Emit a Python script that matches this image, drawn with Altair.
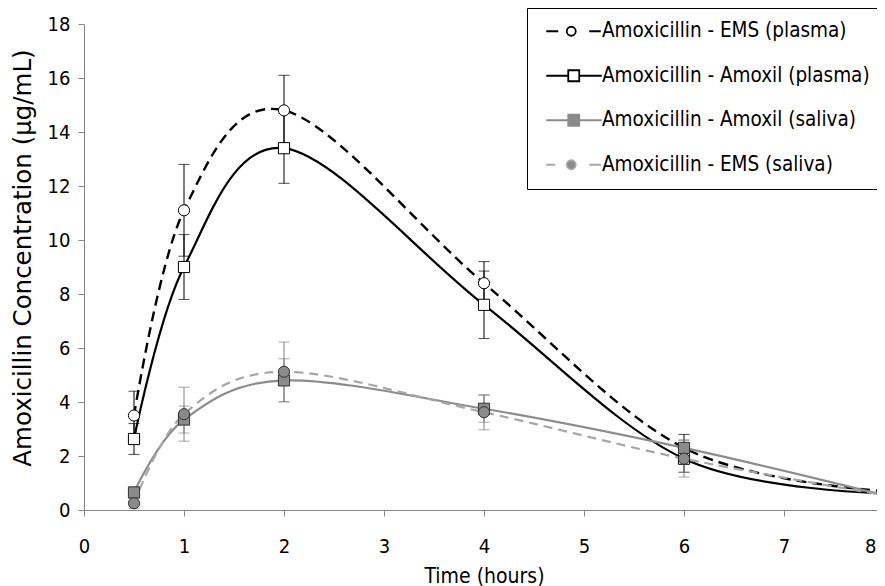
import altair as alt
import pandas as pd

times = [0.5, 1, 2, 4, 6, 8]
series_names = [
    "Amoxicillin - EMS (plasma)",
    "Amoxicillin - Amoxil (plasma)",
    "Amoxicillin - Amoxil (saliva)",
    "Amoxicillin - EMS (saliva)",
]
ems_plasma = [3.5, 11.1, 14.8, 8.4, 2.3, 0.7]
ems_plasma_err = [0.9, 1.7, 1.3, 0.8, 0.5, 0.4]
amoxil_plasma = [2.63, 9.0, 13.4, 7.6, 1.9, 0.62]
amoxil_plasma_err = [0.57, 1.2, 1.3, 1.25, 0.5, 0.3]
amoxil_saliva = [0.65, 3.35, 4.8, 3.75, 2.3, 0.55]
amoxil_saliva_err = [0.2, 0.5, 0.8, 0.5, 0.3, 0.3]
ems_saliva = [0.25, 3.55, 5.12, 3.62, 1.9, 0.55]
ems_saliva_err = [0.2, 1.0, 1.1, 0.65, 0.68, 0.5]

y_ticks = [0, 2, 4, 6, 8, 10, 12, 14, 16, 18]
x_ticks = [0, 1, 2, 3, 4, 5, 6, 7, 8]

rows = []
for name, vals, errs in zip(
    series_names,
    [ems_plasma, amoxil_plasma, amoxil_saliva, ems_saliva],
    [ems_plasma_err, amoxil_plasma_err, amoxil_saliva_err, ems_saliva_err],
):
    for t, v, e in zip(times, vals, errs):
        rows.append({"series": name, "time": t, "value": v, "lo": max(v - e, 0), "hi": v + e})
df = pd.DataFrame(rows)

FONT = "DejaVu Sans"
CFONT = "DejaVu Sans Condensed"
AX = "#868686"

def xenc():
    return alt.X(
        "time:Q",
        scale=alt.Scale(domain=[0, 8], nice=False, range=[0, 800]),
        axis=alt.Axis(
            values=x_ticks, title="Time (hours)", labelPadding=20,
            labelFont=CFONT, labelFontSize=20,
            labelAlign={"condition": {"test": "datum.value == 8", "value": "right"}, "value": "center"},
            labelOffset={"condition": {"test": "datum.value == 8", "value": -8}, "value": 0},
            titleFont=CFONT, titleFontSize=21,
            titleBaseline="alphabetic", titleY=72,
        ),
    )

def yenc(field):
    return alt.Y(
        f"{field}:Q",
        scale=alt.Scale(domain=[0, 18], nice=False),
        axis=alt.Axis(values=y_ticks, title="Amoxicillin Concentration (µg/mL)",
                      labelPadding=8, titlePadding=12, titleY=233.5,
                      labelFont=CFONT, labelFontSize=20,
                      titleFont=FONT, titleFontSize=24.5),
    )

base = alt.Chart(df)

def sub(name):
    return base.transform_filter(alt.datum.series == name)

plasma = series_names[:2]
saliva = series_names[2:]

err_layers = []
for names, col in [(plasma, "black"), (saliva, "#808080")]:
    src = base.transform_filter(alt.FieldOneOfPredicate(field="series", oneOf=names))
    err_layers.append(src.mark_rule(color=col, strokeWidth=1).encode(x=xenc(), y=yenc("lo"), y2="hi:Q"))
    err_layers.append(src.mark_tick(color=col, orient="horizontal", size=11, thickness=1).encode(x=xenc(), y=yenc("lo")))
    err_layers.append(src.mark_tick(color=col, orient="horizontal", size=11, thickness=1).encode(x=xenc(), y=yenc("hi")))

line_styles = [
    dict(color="black", strokeWidth=2.4, strokeDash=[10, 6]),
    dict(color="black", strokeWidth=2.2),
    dict(color="#8c8c8c", strokeWidth=2.2),
    dict(color="#a6a6a6", strokeWidth=2.2, strokeDash=[9, 6]),
]
line_layers = [
    sub(n).mark_line(interpolate="cardinal", **s).encode(x=xenc(), y=yenc("value"))
    for n, s in zip(series_names, line_styles)
]

marker_styles = [
    dict(shape="circle", fill="white", stroke="black"),
    dict(shape="square", fill="white", stroke="black"),
    dict(shape="square", fill="#8a8a8a", stroke="#333333"),
    dict(shape="circle", fill="#8a8a8a", stroke="#333333"),
]
marker_layers = [
    sub(n).mark_point(filled=True, opacity=1, size=125, strokeWidth=1, **s).encode(x=xenc(), y=yenc("value"))
    for n, s in zip(series_names, marker_styles)
]

circ = "M-1.8,0A0.9,0.9,0,1,1,0,0A0.9,0.9,0,1,1,-1.8,0Z"
sq = "M-1.5,-1.1H0.7V1.1H-1.5Z"
legend_paths = [
    "M-5.9,0H-3.5" + circ + "M2.7,0H5.0",
    "M-5.9,0H-1.5" + sq + "M0.7,0H5.2",
    "M-5.9,0H-1.5" + sq + "M0.7,0H5.2",
    "M-5.9,0H-4.1" + circ + "M2.7,0H5.0",
]
legend_fills = ["white", "white", "#8a8a8a", "#8a8a8a"]
legend_strokes = ["black", "black", "#8c8c8c", "#a6a6a6"]

leg = alt.Legend(
    title=None, orient="none", legendX=443, legendY=-16, direction="vertical",
    strokeColor="black", fillColor="white", padding=13, rowPadding=23.5,
    labelFont=CFONT, labelFontSize=20.5, labelColor="black", labelLimit=500,
    symbolSize=100, symbolStrokeWidth=1.8, labelOffset=16, symbolOffset=25.5,
)
legend_layer = base.transform_filter("false").mark_point(filled=False, opacity=1, strokeWidth=1.8).encode(
    x=xenc(), y=yenc("value"),
    shape=alt.Shape("series:N", scale=alt.Scale(domain=series_names, range=legend_paths), legend=leg),
    fill=alt.Fill("series:N", scale=alt.Scale(domain=series_names, range=legend_fills), legend=leg),
    stroke=alt.Stroke("series:N", scale=alt.Scale(domain=series_names, range=legend_strokes), legend=leg),
)

chart = alt.layer(*err_layers, *line_layers, *marker_layers, legend_layer).properties(
    width=793, height=486,
    padding={"left": 76, "top": 16, "right": 0, "bottom": 76},
    autosize=alt.AutoSizeParams(type="none"),
).configure_view(stroke=None).configure_axis(
    grid=False, domainColor=AX, tickColor=AX, tickSize=6,
    labelColor="black", titleFontWeight="normal", titleColor="black",
)

chart.save("out.html", embed_options={"renderer": "svg", "actions": False})
